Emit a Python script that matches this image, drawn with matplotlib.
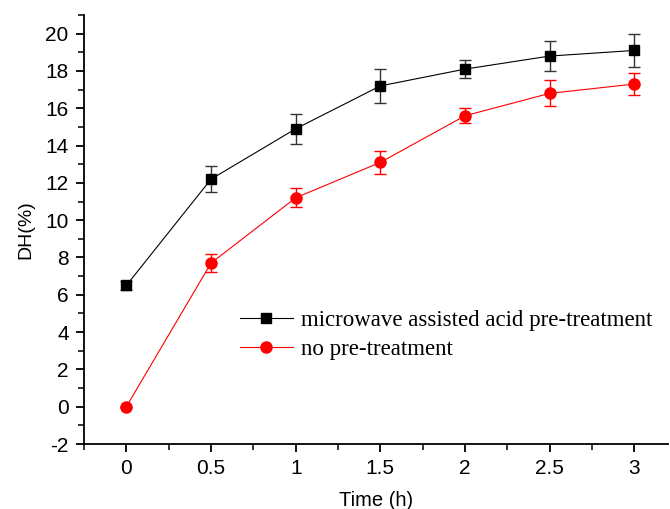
import matplotlib
matplotlib.use("Agg")
import matplotlib.pyplot as plt
from matplotlib.ticker import MultipleLocator
from matplotlib.lines import Line2D

time_h = [0, 0.5, 1, 1.5, 2, 2.5, 3]
dh_microwave = [6.5, 12.2, 14.9, 17.2, 18.1, 18.8, 19.1]
err_microwave = [0.25, 0.7, 0.8, 0.9, 0.5, 0.8, 0.9]
dh_none = [0.0, 7.7, 11.2, 13.1, 15.6, 16.8, 17.3]
err_none = [0.0, 0.5, 0.5, 0.6, 0.4, 0.7, 0.6]
labels = ['microwave assisted acid pre-treatment', 'no pre-treatment']

plt.rcParams['font.family'] = ['Liberation Sans', 'DejaVu Sans']
plt.rcParams['axes.unicode_minus'] = False

fig = plt.figure(figsize=(6.7, 5.09), dpi=100)
ax = fig.add_axes([0.1254, 0.1277, 0.872, 0.8428])

ax.errorbar(time_h, dh_microwave, yerr=err_microwave, color='black', ecolor='#333333',
            marker='s', markersize=7.2, linewidth=0.8, elinewidth=1, capsize=4)
ax.errorbar(time_h, dh_none, yerr=err_none, color='red', ecolor='red',
            marker='o', markersize=8, linewidth=0.8, elinewidth=1, capsize=4)

ax.set_xlim(-0.25, 3.2)
ax.set_ylim(-2, 21)
ax.xaxis.set_minor_locator(MultipleLocator(0.25))
ax.yaxis.set_major_locator(MultipleLocator(2))
ax.yaxis.set_minor_locator(MultipleLocator(1))
ax.set_xticks(time_h)
ax.set_xticklabels(['0', '0.5', '1', '1.5', '2', '2.5', '3'])

for side in ['top', 'right']:
    ax.spines[side].set_visible(False)
for side in ['left', 'bottom']:
    ax.spines[side].set_linewidth(1.3)
ax.tick_params(which='major', direction='out', length=6, width=1.3, labelsize=15, pad=5)
ax.tick_params(which='minor', direction='out', length=4, width=1.1)

ax.set_xlabel('Time (h)', fontsize=14.5, labelpad=9)
ax.set_ylabel('DH(%)', fontsize=14, labelpad=8)

handles = [Line2D([], [], color='black', marker='s', markersize=7.2, linewidth=0.8),
           Line2D([], [], color='red', marker='o', markersize=8, linewidth=0.8)]
fig.legend(handles, labels, loc='center left', bbox_to_anchor=(240 / 670, 0.342), frameon=False,
           prop={'family': 'Liberation Serif', 'size': 16.5}, handlelength=2.3,
           handletextpad=0.35, labelspacing=0.35, borderpad=0, borderaxespad=0)

fig.savefig('out.png', dpi=100)
